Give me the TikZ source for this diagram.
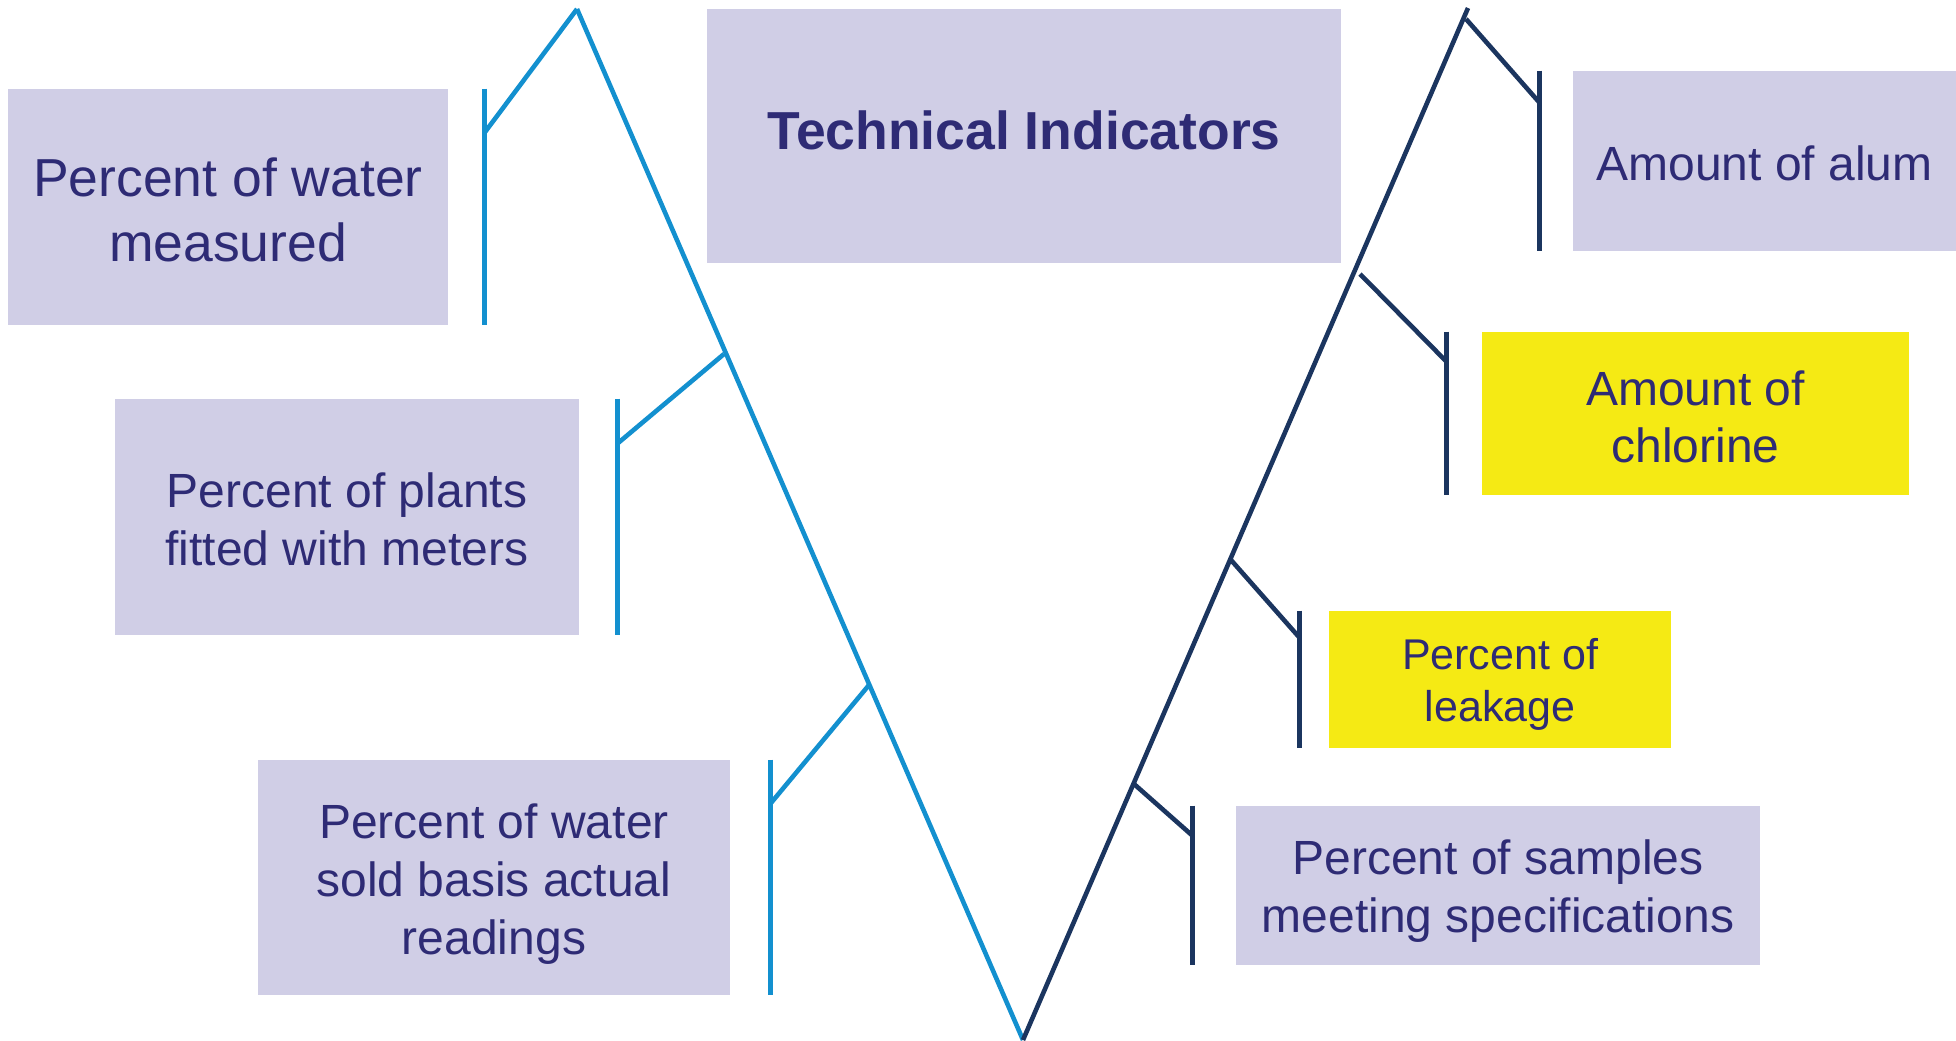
\documentclass[tikz,border=0pt]{standalone}
\usepackage{fontspec}
\setmainfont{Liberation Sans}
\usetikzlibrary{calc}
\definecolor{lav}{HTML}{D0CEE6}
\definecolor{ylw}{HTML}{F5EA14}
\definecolor{txt}{HTML}{2E2B75}
\definecolor{lblue}{HTML}{1390CF}
\definecolor{navy}{HTML}{1B355F}
\tikzset{
  box/.style={fill=lav, inner sep=0pt, anchor=center},
  ybox/.style={box, fill=ylw},
  lbl/.style={inner sep=0pt, align=center, text=txt, anchor=center},
  fA/.style={font=\fontsize{26.75pt}{32.5pt}\selectfont},
  fB/.style={font=\fontsize{24pt}{29pt}\selectfont},
  fC/.style={font=\fontsize{24pt}{28.5pt}\selectfont},
  fD/.style={font=\fontsize{21.5pt}{26pt}\selectfont},
  fT/.style={font=\fontsize{26.75pt}{32pt}\selectfont\bfseries},
  lline/.style={draw=lblue, line width=2.3pt},
  rline/.style={draw=navy, line width=2.3pt},
}
\begin{document}
\begin{tikzpicture}[x=0.5pt, y=-0.5pt]
\useasboundingbox (0,0) rectangle (1956,1040);

% boxes
\node[box, minimum width=220pt, minimum height=118pt] (b1) at (228,207) {};
\node[box, minimum width=232pt, minimum height=118pt] (b2) at (347,517) {};
\node[box, minimum width=236pt, minimum height=117.5pt] (b3) at (494,877.5) {};
\node[box, minimum width=317pt, minimum height=127pt] (title) at (1024,136) {};
\node[box, minimum width=191.5pt, minimum height=90pt] (alum) at (1764.5,161) {};
\node[ybox, minimum width=213.5pt, minimum height=81.5pt] (chlor) at (1695.5,413.5) {};
\node[ybox, minimum width=171pt, minimum height=68.5pt] (leak) at (1500,679.5) {};
\node[box, minimum width=262pt, minimum height=79.5pt] (samp) at (1498,885.5) {};

% texts
\node[lbl, fA] (b1t) at ([yshift=-1.3pt]b1.center) {Percent of water\\measured};
\node[lbl, fB] (b2t) at ([yshift=-1.1pt]b2.center) {Percent of plants\\fitted with meters};
\node[lbl, fB] (b3t) at ([yshift=-3.1pt]b3.center) {Percent of water\\sold basis actual\\readings};
\node[lbl, fT] (titlet) at ([yshift=2.75pt]title.center) {Technical Indicators};
\node[lbl, fB] (alumt) at ([yshift=-1.4pt]alum.center) {Amount of alum};
\node[lbl, fC] (chlort) at ([yshift=-1.8pt]chlor.center) {Amount of\\chlorine};
\node[lbl, fD] (leakt) at ([yshift=-2.3pt]leak.center) {Percent of\\leakage};
\node[lbl, fB] (sampt) at ([yshift=-2.8pt]samp.center) {Percent of samples\\meeting specifications};

% V vertices
\coordinate (lt) at (577,9);
\coordinate (bot) at (1023,1040);
\coordinate (rt) at (1468,8);

% joints on the V
\coordinate (j2) at (724,354);
\coordinate (j3) at (869,685);
\coordinate (r1) at (1466,19);
\coordinate (r2) at (1360,274);
\coordinate (r3) at (1231,560);
\coordinate (r4) at (1134,784);

% bars
\coordinate (k1t) at ([xshift=18pt]b1.north east);
\coordinate (k1b) at ([xshift=18pt]b1.south east);
\coordinate (k1) at ($(k1t)!0.187!(k1b)$);
\coordinate (k2t) at ([xshift=19pt]b2.north east);
\coordinate (k2b) at ([xshift=19pt]b2.south east);
\coordinate (k2) at ($(k2t)!0.19!(k2b)$);
\coordinate (k3t) at ([xshift=20pt]b3.north east);
\coordinate (k3b) at ([xshift=20pt]b3.south east);
\coordinate (k3) at ($(k3t)!0.187!(k3b)$);
\coordinate (m1t) at ([xshift=-16.5pt]alum.north west);
\coordinate (m1b) at ([xshift=-16.5pt]alum.south west);
\coordinate (m1) at ($(m1t)!0.178!(m1b)$);
\coordinate (m2t) at ([xshift=-17.5pt]chlor.north west);
\coordinate (m2b) at ([xshift=-17.5pt]chlor.south west);
\coordinate (m2) at ($(m2t)!0.184!(m2b)$);
\coordinate (m3t) at ([xshift=-14.5pt]leak.north west);
\coordinate (m3b) at ([xshift=-14.5pt]leak.south west);
\coordinate (m3) at ($(m3t)!0.197!(m3b)$);
\coordinate (m4t) at ([xshift=-21.5pt]samp.north west);
\coordinate (m4b) at ([xshift=-21.5pt]samp.south west);
\coordinate (m4) at ($(m4t)!0.189!(m4b)$);

% left side (light blue)
\draw[lline] (lt) -- (bot);
\draw[lline] (k1t) -- (k1b);
\draw[lline] (k1) -- (lt);
\draw[lline] (k2t) -- (k2b);
\draw[lline] (k2) -- (j2);
\draw[lline] (k3t) -- (k3b);
\draw[lline] (k3) -- (j3);

% right side (navy)
\draw[rline] (bot) -- (rt);
\draw[rline] (m1t) -- (m1b);
\draw[rline] (r1) -- (m1);
\draw[rline] (m2t) -- (m2b);
\draw[rline] (r2) -- (m2);
\draw[rline] (m3t) -- (m3b);
\draw[rline] (r3) -- (m3);
\draw[rline] (m4t) -- (m4b);
\draw[rline] (r4) -- (m4);
\end{tikzpicture}
\end{document}
